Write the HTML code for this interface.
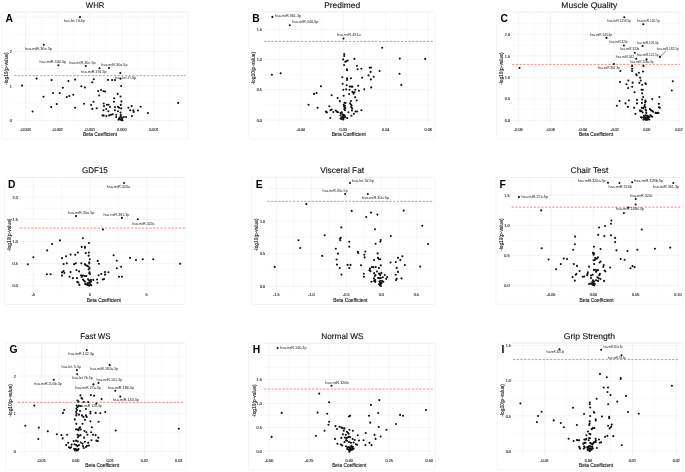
<!DOCTYPE html>
<html><head><meta charset="utf-8"><title>Volcano plots</title><style>
html,body{margin:0;padding:0;background:#fff;}
body{width:685px;height:472px;overflow:hidden;}
svg{display:block;will-change:transform;}
text{font-family:"Liberation Sans",sans-serif;}
.tt{text-rendering:geometricPrecision;}
.tt{font-size:8.3px;fill:#111111;stroke:#111;stroke-width:0.12px;}
.tg{font-size:10.3px;font-weight:bold;fill:#000;}
.ax{font-size:4.85px;fill:#1a1a1a;stroke:#1a1a1a;stroke-width:0.12px;}
.tk{font-size:3.75px;fill:#3a3a3a;stroke:#3a3a3a;stroke-width:0.16px;}
.lb{font-size:3.75px;fill:#1a1a1a;}
.lt{font-size:2.8px;fill:#1a1a1a;}
</style></head>
<body><svg width="685" height="472" viewBox="0 0 685 472">
<rect width="685" height="472" fill="#fff"/>
<g id="pA">
<rect x="1.8" y="12" width="186.2" height="127" rx="1.5" fill="none" stroke="#ececec" stroke-width="0.6"/>
<path d="M41.55 12.3V125M73.65 12.3V125M105.75 12.3V125M137.85 12.3V125M169.95 12.3V125M14 103.2H186M14 68.8H186M14 34.4H186" stroke="#f1f1f1" stroke-width="0.45" fill="none"/>
<path d="M25.5 12.3V125M57.6 12.3V125M89.7 12.3V125M121.8 12.3V125M153.9 12.3V125M14 120.4H186M14 86H186M14 51.6H186M14 17.2H186M14 12.3H186" stroke="#ebebeb" stroke-width="0.55" fill="none"/>
<text x="25.5" y="130.6" class="tk" text-anchor="middle">-0.003</text>
<text x="57.6" y="130.6" class="tk" text-anchor="middle">-0.002</text>
<text x="89.7" y="130.6" class="tk" text-anchor="middle">-0.001</text>
<text x="121.8" y="130.6" class="tk" text-anchor="middle">0.000</text>
<text x="153.9" y="130.6" class="tk" text-anchor="middle">0.001</text>
<text x="11.9" y="122.05" class="tk" text-anchor="end">0</text>
<text x="11.9" y="87.65" class="tk" text-anchor="end">1</text>
<text x="11.9" y="53.25" class="tk" text-anchor="end">2</text>
<text x="100.1" y="135.7" class="ax" text-anchor="middle">Beta Coefficient</text>
<text transform="translate(8.2 68.65) rotate(-90)" class="ax" text-anchor="middle">-log10(p-value)</text>
<line x1="14" y1="75.64" x2="186" y2="75.64" stroke="#f37e76" stroke-width="0.9" stroke-dasharray="2.3 1.4"/>
<path d="M80 17.1h0M43.8 44.8h0M58.4 65.3h0M85.8 66h0M109 68h0M99.5 68.3h0M120.3 73h0M22 85.6h0M36.6 78.6h0M32.6 111.5h0M43.5 96.7h0M51.6 80.1h0M53.1 93h0M51.2 107.1h0M56.7 104.1h0M59.8 93h0M62.9 87.8h0M66.8 97h0M69.3 96h0M68.4 81.1h0M73.3 94.8h0M75.1 79.6h0M75.1 107.8h0M81.3 86.3h0M84.9 87.5h0M84.1 103.8h0M92.3 82.2h0M93.8 79.2h0M91.1 105h0M93.5 101.8h0M92.3 108.9h0M96.7 108.3h0M98.2 91.1h0M99.1 95.5h0M108 79.9h0M112.1 80.1h0M115 80.1h0M120.5 78.7h0M121.2 86h0M101.1 90h0M103.4 91.2h0M105.1 91.5h0M117.7 93.9h0M114.2 98.2h0M120.5 96.5h0M113.9 101.7h0M121.4 101.4h0M103.7 103.5h0M104 106.1h0M106.9 104.7h0M108.6 104.7h0M110 107h0M103.4 110.2h0M106.3 109h0M108.4 111.3h0M102.6 115.4h0M103.7 115.6h0M106.3 116h0M109.2 115.4h0M111 114.8h0M112.7 114.2h0M115 107h0M117.9 106.7h0M119.1 107.8h0M120.8 104.9h0M121.2 108.4h0M115 110.2h0M117.9 111.3h0M120.5 112.5h0M120.8 114.8h0M116.2 114.8h0M116.2 117.1h0M119.7 117.7h0M120.5 119.5h0M122 118.9h0M123.8 117.1h0M126.1 117.1h0M120.5 116.3h0M121.4 120.1h0M128.4 107.8h0M131.7 106.1h0M130.2 110.2h0M133.3 110.2h0M133.7 111.9h0M138 110.5h0M140.6 106.7h0M131.9 116h0M147.9 113.1h0M178.2 102.9h0M118.5 119.8h0M122.5 120.3h0M119 118.5h0M121.8 117.5h0" stroke="#111" stroke-width="2.1" stroke-linecap="round" fill="none"/>
<g>
<text x="63.65" y="22.43" class="lb" style="font-size:3.75px" textLength="21.2" lengthAdjust="spacingAndGlyphs">hsa.let.7d.5p</text>
<text x="24.95" y="49.92" class="lb" style="font-size:3.75px" textLength="27" lengthAdjust="spacingAndGlyphs">hsa.miR.30e.3p</text>
<text x="39.55" y="63.42" class="lb" style="font-size:3.75px" textLength="26.6" lengthAdjust="spacingAndGlyphs">hsa.miR.340.5p</text>
<text x="69.15" y="63.83" class="lb" style="font-size:3.75px" textLength="26.6" lengthAdjust="spacingAndGlyphs">hsa.miR.30c.5p</text>
<text x="101.25" y="66.03" class="lb" style="font-size:3.75px" textLength="26.3" lengthAdjust="spacingAndGlyphs">hsa.miR.30a.5p</text>
<text x="80.75" y="73.22" class="lb" style="font-size:3.75px" textLength="25.9" lengthAdjust="spacingAndGlyphs">hsa.miR.191.5p</text>
<text x="114.85" y="78.53" class="lb" style="font-size:3.75px" textLength="21.3" lengthAdjust="spacingAndGlyphs">hsa.let.7i.5p</text>
</g>
<text x="85.85" y="8" class="tt" textLength="18.5" lengthAdjust="spacingAndGlyphs">WHR</text>
<text x="5.5" y="22" class="tg">A</text>
</g>
<g id="pB">
<rect x="248.8" y="12" width="186.4" height="127" rx="1.5" fill="none" stroke="#ececec" stroke-width="0.6"/>
<path d="M279.45 11.6V125M321.95 11.6V125M364.45 11.6V125M406.95 11.6V125M264 104.9H433M264 74.7H433M264 44.5H433" stroke="#f1f1f1" stroke-width="0.45" fill="none"/>
<path d="M300.7 11.6V125M343.2 11.6V125M385.7 11.6V125M428.2 11.6V125M264 120H433M264 89.8H433M264 59.6H433M264 29.4H433M264 11.6H433" stroke="#ebebeb" stroke-width="0.55" fill="none"/>
<text x="300.7" y="130.6" class="tk" text-anchor="middle">-0.04</text>
<text x="343.2" y="130.6" class="tk" text-anchor="middle">0.00</text>
<text x="385.7" y="130.6" class="tk" text-anchor="middle">0.04</text>
<text x="428.2" y="130.6" class="tk" text-anchor="middle">0.08</text>
<text x="261.9" y="121.65" class="tk" text-anchor="end">0.0</text>
<text x="261.9" y="91.45" class="tk" text-anchor="end">0.5</text>
<text x="261.9" y="61.25" class="tk" text-anchor="end">1.0</text>
<text x="261.9" y="31.05" class="tk" text-anchor="end">1.5</text>
<text x="348.7" y="135.7" class="ax" text-anchor="middle">Beta Coefficient</text>
<text transform="translate(255.4 68.3) rotate(-90)" class="ax" text-anchor="middle">-log10(p-value)</text>
<line x1="264" y1="41.42" x2="433" y2="41.42" stroke="#f37e76" stroke-width="0.9" stroke-dasharray="2.3 1.4"/>
<path d="M272.4 16.9h0M289.8 25.2h0M343.5 38.6h0M382.2 47.8h0M343.2 59.4h0M345.2 61.8h0M347.7 60.5h0M354.4 58.9h0M344.1 65h0M399.8 58.6h0M425.2 58.9h0M357 65.8h0M369.8 67.7h0M361.3 68.7h0M346.9 69.3h0M357.6 69.3h0M271.9 74.7h0M280.7 73.2h0M314.1 93.9h0M316.6 93h0M308.6 104.7h0M317.6 107.8h0M344.2 54h0M344.2 56h0M346.2 61.4h0M347 70.2h0M370.6 71.9h0M379.6 71h0M368.5 75.4h0M373.7 76.7h0M370.9 79.4h0M362.1 77.8h0M342.3 77.3h0M347 78.3h0M347 79.9h0M351 78.3h0M371.2 87.4h0M399.5 73.8h0M401.3 84.9h0M371 67.5h0M320.95 86.2h0M342.69 83.81h0M346.69 85.24h0M349.74 86.48h0M351.46 86.67h0M352.41 86.67h0M358.13 85.72h0M364.33 89.34h0M343.36 89.72h0M346.22 89.34h0M349.55 89.72h0M355.27 89.72h0M358.89 90.68h0M352.41 91.92h0M353.84 92.87h0M354.51 92.2h0M353.56 93.82h0M349.08 94.11h0M331.63 95.25h0M343.64 95.73h0M337.64 98.11h0M355.08 97.35h0M339.83 101.16h0M350.98 100.97h0M356.7 100.5h0M344.59 102.69h0M345.55 103.07h0M343.64 104.79h0M344.02 106.22h0M344.98 105.74h0M344.59 107.17h0M345.26 108.12h0M344.31 109.08h0M344.98 110.31h0M350.03 103.36h0M350.98 104.59h0M351.65 105.55h0M351.27 107.17h0M352.22 108.41h0M351.94 110.51h0M329.34 106.22h0M330.49 110.31h0M331.63 109.55h0M325.91 111.65h0M326.86 112.41h0M333.35 111.94h0M335.73 110.51h0M336.97 111.65h0M337.92 112.22h0M340.5 112.89h0M341.73 112.41h0M348.41 112.22h0M355.46 111.46h0M357.18 111.46h0M361.47 110.31h0M353.84 113.84h0M351.46 115.75h0M330.3 117.94h0M347.17 117.94h0M340.5 115.27h0M342.4 114.32h0M343.83 114.8h0M342.88 116.22h0M344.79 115.75h0M341.45 117.18h0M343.36 117.65h0M344.98 117.37h0M340.5 118.61h0M341.93 119.08h0M343.36 119.56h0" stroke="#111" stroke-width="2.1" stroke-linecap="round" fill="none"/>
<g>
<text x="274.85" y="16.73" class="lb" style="font-size:3.75px" textLength="26.3" lengthAdjust="spacingAndGlyphs">hsa.miR.361.3p</text>
<text x="292.05" y="23.12" class="lb" style="font-size:3.75px" textLength="26.3" lengthAdjust="spacingAndGlyphs">hsa.miR.340.5p</text>
<text x="337.05" y="36.12" class="lb" style="font-size:3.75px" textLength="23.6" lengthAdjust="spacingAndGlyphs">hsa.miR.451a</text>
</g>
<text x="324.25" y="8" class="tt" textLength="35.8" lengthAdjust="spacingAndGlyphs">Predimed</text>
<text x="252.2" y="22.2" class="tg">B</text>
</g>
<g id="pC">
<rect x="496.4" y="12" width="186.6" height="126.9" rx="1.5" fill="none" stroke="#ececec" stroke-width="0.6"/>
<path d="M534.45 12.4V125M566.55 12.4V125M598.65 12.4V125M630.75 12.4V125M662.85 12.4V125M512.1 109.48H680M512.1 88.03H680M512.1 66.58H680M512.1 45.12H680M512.1 23.68H680" stroke="#f1f1f1" stroke-width="0.45" fill="none"/>
<path d="M518.4 12.4V125M550.5 12.4V125M582.6 12.4V125M614.7 12.4V125M646.8 12.4V125M678.9 12.4V125M512.1 120.2H680M512.1 98.75H680M512.1 77.3H680M512.1 55.85H680M512.1 34.4H680M512.1 12.4H680" stroke="#ebebeb" stroke-width="0.55" fill="none"/>
<text x="518.4" y="130.6" class="tk" text-anchor="middle">-0.08</text>
<text x="550.5" y="130.6" class="tk" text-anchor="middle">-0.06</text>
<text x="582.6" y="130.6" class="tk" text-anchor="middle">-0.04</text>
<text x="614.7" y="130.6" class="tk" text-anchor="middle">-0.02</text>
<text x="646.8" y="130.6" class="tk" text-anchor="middle">0.00</text>
<text x="678.9" y="130.6" class="tk" text-anchor="middle">0.02</text>
<text x="510" y="121.85" class="tk" text-anchor="end">0.0</text>
<text x="510" y="100.4" class="tk" text-anchor="end">0.5</text>
<text x="510" y="78.95" class="tk" text-anchor="end">1.0</text>
<text x="510" y="57.5" class="tk" text-anchor="end">1.5</text>
<text x="510" y="36.05" class="tk" text-anchor="end">2.0</text>
<text x="596" y="135.7" class="ax" text-anchor="middle">Beta Coefficient</text>
<text transform="translate(502.6 68.7) rotate(-90)" class="ax" text-anchor="middle">-log10(p-value)</text>
<line x1="512.1" y1="64.39" x2="680" y2="64.39" stroke="#f37e76" stroke-width="0.9" stroke-dasharray="2.3 1.4"/>
<line x1="659.9" y1="56.9" x2="665.9" y2="51" stroke="#222" stroke-width="0.5"/>
<path d="M624.3 17.2h0M643.3 24.3h0M606.5 37.9h0M623.9 45.5h0M642.6 46h0M634.7 52.8h0M636.2 58.7h0M646.6 59.2h0M659.9 56.9h0M613.9 64h0M519.5 68h0M632.1 65.9h0M643.5 65.9h0M620.3 71h0M632.1 68.8h0M632.1 71h0M643 71.5h0M638.9 72.7h0M636.7 75.3h0M640.1 77.8h0M672.8 81.2h0M671.8 90.5h0M636.2 74.4h0M619.96 82.1h0M628.36 80.48h0M626.45 84.29h0M632.65 82.67h0M639.33 82.86h0M640.76 80.48h0M642.19 84.77h0M645.34 83.34h0M646.01 84.01h0M628.17 88.11h0M632.18 86.68h0M641.53 89.73h0M642.86 89.73h0M634.56 92.21h0M642.19 93.36h0M643.15 96.98h0M659.37 96.98h0M652.21 99.08h0M619.58 100.99h0M628.84 100.52h0M636.95 99.85h0M642.19 99.56h0M645.34 100.52h0M645.73 101.47h0M645.06 102.42h0M625.5 103.38h0M636.95 103.38h0M641.91 102.9h0M616.91 105.76h0M627.88 106.91h0M634.08 107.86h0M658.89 103.85h0M644.77 105h0M644.39 106.53h0M645.34 107.19h0M641.91 107.86h0M643.15 108.15h0M658.89 107.19h0M659.85 107.86h0M640 110.34h0M640.29 111.3h0M641.53 111.01h0M645.53 109.58h0M646.01 110.53h0M649.83 109.1h0M651.07 110.34h0M652.4 111.01h0M653.17 111.68h0M655.55 112.92h0M656.98 112.92h0M658.42 112.92h0M642.67 112.44h0M646.3 112.92h0M635.52 113.87h0M640.95 117.21h0M651.26 115.78h0M652.21 116.74h0M644.1 115.78h0M645.34 115.31h0M646.68 115.5h0M647.92 116.07h0M643.63 117.21h0M644.77 117.69h0M646.01 117.4h0M647.44 117.21h0M648.59 117.02h0M644.1 118.65h0M645.34 119.12h0M646.49 118.65h0M647.92 118.36h0M646.01 119.89h0M647.25 119.6h0M649.5 117h0M649.2 119.6h0M643.4 119.8h0M641.8 117.6h0M650.3 115.4h0" stroke="#111" stroke-width="2.1" stroke-linecap="round" fill="none"/>
<g>
<text x="607.15" y="21.98" class="lb" style="font-size:3.25px" textLength="24" lengthAdjust="spacingAndGlyphs">hsa.miR.1256.5p</text>
<text x="637.25" y="22.18" class="lb" style="font-size:3.25px" textLength="22.5" lengthAdjust="spacingAndGlyphs">hsa.miR.100.5p</text>
<text x="590.05" y="35.77" class="lb" style="font-size:3.25px" textLength="22" lengthAdjust="spacingAndGlyphs">hsa.miR.143.3p</text>
<text x="609.35" y="43.38" class="lb" style="font-size:3.25px" textLength="18.8" lengthAdjust="spacingAndGlyphs">hsa.miR.320c</text>
<text x="636.75" y="43.77" class="lb" style="font-size:3.25px" textLength="21.8" lengthAdjust="spacingAndGlyphs">hsa.miR.126.3p</text>
<text x="620.15" y="50.18" class="lb" style="font-size:3.25px" textLength="19.2" lengthAdjust="spacingAndGlyphs">hsa.miR.320b</text>
<text x="616.05" y="57.58" class="lb" style="font-size:3.25px" textLength="18.1" lengthAdjust="spacingAndGlyphs">hsa.miR.342</text>
<text x="636.75" y="56.38" class="lb" style="font-size:3.25px" textLength="21.8" lengthAdjust="spacingAndGlyphs">hsa.miR.122.5p</text>
<text x="656.85" y="50.48" class="lb" style="font-size:3.25px" textLength="21.8" lengthAdjust="spacingAndGlyphs">hsa.miR.182.5p</text>
<text x="597.85" y="68.77" class="lb" style="font-size:3.25px" textLength="22.2" lengthAdjust="spacingAndGlyphs">hsa.miR.361.3p</text>
<text x="630.15" y="63.08" class="lb" style="font-size:3.25px" textLength="23.2" lengthAdjust="spacingAndGlyphs">hsa.miR.128a.3p</text>
</g>
<text x="561.35" y="8" class="tt" textLength="55.9" lengthAdjust="spacingAndGlyphs">Muscle Quality</text>
<text x="500.4" y="22" class="tg">C</text>
</g>
<g id="pD">
<rect x="4.4" y="177.5" width="180.9" height="127" rx="1.5" fill="none" stroke="#ececec" stroke-width="0.6"/>
<path d="M61.7 177.5V290.4M118.3 177.5V290.4M174.9 177.5V290.4M19.9 274.62H185M19.9 252.47H185M19.9 230.32H185M19.9 208.18H185M19.9 186.02H185" stroke="#f1f1f1" stroke-width="0.45" fill="none"/>
<path d="M33.4 177.5V290.4M90 177.5V290.4M146.6 177.5V290.4M19.9 285.7H185M19.9 263.55H185M19.9 241.4H185M19.9 219.25H185M19.9 197.1H185M19.9 177.5H185" stroke="#ebebeb" stroke-width="0.55" fill="none"/>
<text x="33.4" y="296" class="tk" text-anchor="middle">-5</text>
<text x="90" y="296" class="tk" text-anchor="middle">0</text>
<text x="146.6" y="296" class="tk" text-anchor="middle">5</text>
<text x="17.8" y="287.35" class="tk" text-anchor="end">0.0</text>
<text x="17.8" y="265.2" class="tk" text-anchor="end">0.5</text>
<text x="17.8" y="243.05" class="tk" text-anchor="end">1.0</text>
<text x="17.8" y="220.9" class="tk" text-anchor="end">1.5</text>
<text x="17.8" y="198.75" class="tk" text-anchor="end">2.0</text>
<text x="103.9" y="301.6" class="ax" text-anchor="middle">Beta Coefficient</text>
<text transform="translate(10.6 234.85) rotate(-90)" class="ax" text-anchor="middle">-log10(p-value)</text>
<line x1="19.9" y1="228.06" x2="185" y2="228.06" stroke="#f37e76" stroke-width="0.9" stroke-dasharray="2.3 1.4"/>
<path d="M124.1 183h0M76 216.1h0M121.9 217.9h0M137.8 219.3h0M103 229.5h0M27.8 264.3h0M33.4 257.3h0M47.2 250.4h0M52.1 244.1h0M59.9 240.4h0M46.9 274.3h0M50.6 274.3h0M62 258.1h0M66 256.3h0M63.6 264h0M66.8 263.2h0M62 272.4h0M63.6 271.1h0M64.4 273h0M62 275.6h0M69.5 276.8h0M113.6 255.2h0M116.8 260.8h0M130 257.9h0M136 260h0M142.8 259.2h0M153.2 259.2h0M180.2 263.8h0M116.8 268.3h0M121.1 266.7h0M119 276.7h0M121.9 276.7h0M82.83 238.27h0M88.89 242.93h0M81.66 246.9h0M84.93 246.9h0M84.93 247.83h0M77.93 252.49h0M75.25 254.83h0M70.58 254.59h0M85.74 253.08h0M88.89 252.49h0M88.66 255.64h0M89.83 259.26h0M97.76 260.89h0M98.92 263.69h0M74.08 264.15h0M75.83 263.22h0M81.31 263.34h0M84.93 264.15h0M85.74 265.09h0M89.24 262.41h0M89.24 263.57h0M87.26 265.9h0M88.43 266.49h0M89.59 268h0M88.66 269.4h0M70.58 272.08h0M76.41 269.99h0M79.1 271.38h0M81.08 275.23h0M83.06 275.58h0M84.93 276.05h0M86.33 276.05h0M89.24 273.25h0M90.06 274.07h0M89.59 272.32h0M72.92 278.15h0M77 278.15h0M81.66 276.98h0M83.06 279.55h0M88.08 279.31h0M89.24 280.48h0M90.99 279.9h0M93.32 279.9h0M97.06 279.55h0M98.57 275.23h0M101.25 274.07h0M104.99 272.08h0M104.99 274.65h0M108.48 272.32h0M102.65 279.55h0M104.05 279.08h0M77.23 281.88h0M78.4 282.58h0M79.33 284.91h0M83.76 280.48h0M84.93 281.65h0M85.16 283.98h0M86.33 284.56h0M87.49 283.4h0M88.66 282.81h0M89.83 282.23h0M90.99 281.65h0M90.06 283.98h0M91.22 285.15h0M89.24 285.73h0M88.08 285.15h0M97.41 282.81h0" stroke="#111" stroke-width="2.1" stroke-linecap="round" fill="none"/>
<g>
<text x="106.85" y="188.12" class="lb" style="font-size:3.75px" textLength="23.3" lengthAdjust="spacingAndGlyphs">hsa.miR.320a</text>
<text x="68.05" y="213.82" class="lb" style="font-size:3.75px" textLength="26.3" lengthAdjust="spacingAndGlyphs">hsa.miR.30a.5p</text>
<text x="103.45" y="215.72" class="lb" style="font-size:3.75px" textLength="26" lengthAdjust="spacingAndGlyphs">hsa.miR.381.3p</text>
<text x="132.15" y="224.62" class="lb" style="font-size:3.75px" textLength="22.5" lengthAdjust="spacingAndGlyphs">hsa.miR.320c</text>
</g>
<text x="81.95" y="173.3" class="tt" textLength="25.9" lengthAdjust="spacingAndGlyphs">GDF15</text>
<text x="8.1" y="187.8" class="tg">D</text>
</g>
<g id="pE">
<rect x="251.5" y="177.3" width="183.5" height="127.2" rx="1.5" fill="none" stroke="#ececec" stroke-width="0.6"/>
<path d="M293.88 177.3V290.4M328.85 177.3V290.4M363.81 177.3V290.4M398.79 177.3V290.4M267.2 269.9H432.7M267.2 237.3H432.7M267.2 204.7H432.7" stroke="#f1f1f1" stroke-width="0.45" fill="none"/>
<path d="M276.39 177.3V290.4M311.36 177.3V290.4M346.33 177.3V290.4M381.3 177.3V290.4M416.27 177.3V290.4M267.2 286.2H432.7M267.2 253.6H432.7M267.2 221H432.7M267.2 188.4H432.7M267.2 177.3H432.7" stroke="#ebebeb" stroke-width="0.55" fill="none"/>
<text x="276.39" y="296" class="tk" text-anchor="middle">-1.5</text>
<text x="311.36" y="296" class="tk" text-anchor="middle">-1.0</text>
<text x="346.33" y="296" class="tk" text-anchor="middle">-0.5</text>
<text x="381.3" y="296" class="tk" text-anchor="middle">0.0</text>
<text x="416.27" y="296" class="tk" text-anchor="middle">0.5</text>
<text x="265.1" y="287.85" class="tk" text-anchor="end">0.0</text>
<text x="265.1" y="255.25" class="tk" text-anchor="end">0.5</text>
<text x="265.1" y="222.65" class="tk" text-anchor="end">1.0</text>
<text x="350.4" y="301.9" class="ax" text-anchor="middle">Beta Coefficient</text>
<text transform="translate(258.3 234.75) rotate(-90)" class="ax" text-anchor="middle">-log10(p-value)</text>
<line x1="267.2" y1="201.37" x2="432.7" y2="201.37" stroke="#f37e76" stroke-width="0.9" stroke-dasharray="2.3 1.4"/>
<path d="M350 183h0M345.1 194h0M367.8 194h0M306.3 204.1h0M351.7 210.9h0M366.2 217h0M371 212.6h0M377.4 214.6h0M403.7 210.6h0M422.3 225.8h0M375 229.3h0M341.3 227.4h0M274.7 266.9h0M298.5 240.3h0M300.2 248h0M324.7 235.3h0M322.2 255.9h0M340 238.6h0M340.3 240.3h0M340.8 237.8h0M349.3 241.7h0M349.3 246.8h0M335.8 248.8h0M338 253.6h0M336.6 259.5h0M337 264.6h0M339.7 268h0M341.4 274.6h0M347.6 264.9h0M349.3 268h0M390.8 236.1h0M428.1 244.1h0M380.7 240h0M380.3 241.7h0M375.6 243.7h0M357.8 251.9h0M358.3 253h0M420.2 266.6h0M350.5 264.9h0M365.25 251.49h0M364.29 254.73h0M364.58 257.4h0M377.65 253.4h0M377.94 257.88h0M379.08 259.31h0M380.23 259.31h0M374.12 260.08h0M390.53 262.46h0M397.98 257.88h0M400.27 260.08h0M402.46 256.26h0M395.78 261.98h0M404.85 265.04h0M396.74 267.9h0M397.98 271.91h0M395.78 274.77h0M396.74 278.87h0M396.07 280.11h0M401.51 278.4h0M360.95 265.23h0M371.93 266.95h0M373.36 267.14h0M375.74 266.95h0M380.8 265.23h0M378.89 268.09h0M370.02 268.66h0M369.35 270.29h0M370.5 271.24h0M376.98 271.53h0M363.82 273.82h0M364.01 276.68h0M374.12 273.15h0M375.46 275.06h0M374.79 276.01h0M379.08 273.63h0M380.52 274.1h0M381.47 272.86h0M380.04 275.06h0M384.81 275.06h0M387.19 276.97h0M386.24 278.87h0M382.9 277.25h0M378.13 277.92h0M379.56 278.21h0M380.8 277.92h0M373.84 278.4h0M375.27 280.11h0M374.12 281.07h0M371.45 281.74h0M375.27 282.02h0M379.56 281.26h0M380.99 280.78h0M382.42 281.26h0M383.38 281.74h0M380.04 282.69h0M381.47 283.17h0M379.08 284.12h0M380.52 284.6h0M380.04 285.55h0M380.99 286.03h0" stroke="#111" stroke-width="2.1" stroke-linecap="round" fill="none"/>
<g>
<text x="351.85" y="182.32" class="lb" style="font-size:3.75px" textLength="22" lengthAdjust="spacingAndGlyphs">hsa.let.7d.5p</text>
<text x="322.55" y="191.62" class="lb" style="font-size:3.75px" textLength="25.1" lengthAdjust="spacingAndGlyphs">hsa.miR.30c.5p</text>
<text x="362.05" y="199.32" class="lb" style="font-size:3.75px" textLength="27.1" lengthAdjust="spacingAndGlyphs">hsa.miR.30a.5p</text>
</g>
<text x="320.35" y="173.3" class="tt" textLength="43.8" lengthAdjust="spacingAndGlyphs">Visceral Fat</text>
<text x="255.8" y="187.7" class="tg">E</text>
</g>
<g id="pF">
<rect x="495.8" y="177.5" width="187.2" height="126.7" rx="1.5" fill="none" stroke="#ececec" stroke-width="0.6"/>
<path d="M529.95 177.5V290.1M572.25 177.5V290.1M614.55 177.5V290.1M656.85 177.5V290.1M511.6 270.45H680.4M511.6 240.35H680.4M511.6 210.25H680.4M511.6 180.15H680.4" stroke="#f1f1f1" stroke-width="0.45" fill="none"/>
<path d="M551.1 177.5V290.1M593.4 177.5V290.1M635.7 177.5V290.1M678 177.5V290.1M511.6 285.5H680.4M511.6 255.4H680.4M511.6 225.3H680.4M511.6 195.2H680.4M511.6 177.5H680.4" stroke="#ebebeb" stroke-width="0.55" fill="none"/>
<text x="551.1" y="296" class="tk" text-anchor="middle">-0.05</text>
<text x="593.4" y="296" class="tk" text-anchor="middle">0.00</text>
<text x="635.7" y="296" class="tk" text-anchor="middle">0.05</text>
<text x="678" y="296" class="tk" text-anchor="middle">0.10</text>
<text x="509.5" y="287.15" class="tk" text-anchor="end">0.0</text>
<text x="509.5" y="257.05" class="tk" text-anchor="end">0.5</text>
<text x="509.5" y="226.95" class="tk" text-anchor="end">1.0</text>
<text x="509.5" y="196.85" class="tk" text-anchor="end">1.5</text>
<text x="596.6" y="301.9" class="ax" text-anchor="middle">Beta Coefficient</text>
<text transform="translate(502.7 234.7) rotate(-90)" class="ax" text-anchor="middle">-log10(p-value)</text>
<line x1="511.6" y1="207.18" x2="680.4" y2="207.18" stroke="#f37e76" stroke-width="0.9" stroke-dasharray="2.3 1.4"/>
<path d="M518.9 197.1h0M608 182.7h0M619.4 183h0M632.2 182.3h0M673.3 183h0M635.7 199h0M635.7 204.5h0M623.9 213.1h0M541.2 210.4h0M628.5 207.5h0M611.4 220.5h0M611 223.8h0M605 226h0M599.1 227.5h0M641.8 229.5h0M541.7 248.3h0M548.5 259.5h0M556.1 269.2h0M560.8 264.1h0M563.7 258.6h0M567.1 259h0M627.5 251h0M637.3 249.7h0M654.9 248.8h0M670.2 247.6h0M620.7 259h0M624.6 259.8h0M630.5 268.3h0M632.5 266.1h0M634.6 267.1h0M575.09 236.62h0M574.83 244.25h0M573.18 249.72h0M598.24 234.83h0M604.35 236.11h0M610.97 235.34h0M615.17 237.89h0M615.17 242.09h0M593.92 246.79h0M600.53 249.08h0M616.44 250.36h0M592.9 252.9h0M594.17 253.54h0M593.54 254.81h0M595.19 257.99h0M596.72 258.63h0M597.99 257.35h0M593.54 260.28h0M594.81 259.9h0M600.53 261.55h0M599.52 262.44h0M573.82 264.1h0M577 265.88h0M594.17 264.1h0M589.08 266.64h0M603.72 264.99h0M603.33 266.9h0M610.08 267.53h0M579.54 270.97h0M593.92 270.08h0M595.45 269.69h0M596.97 270.46h0M597.99 270.08h0M596.08 271.73h0M604.61 270.46h0M605.37 271.35h0M587.81 272.24h0M587.56 273.89h0M587.18 275.17h0M576.36 273.89h0M575.73 274.78h0M582.72 276.82h0M584.25 276.44h0M572.54 277.07h0M599.9 273.89h0M599.26 275.17h0M590.99 275.55h0M592.65 274.78h0M590.99 278.09h0M597.35 277.33h0M598.63 278.35h0M600.53 278.98h0M574.83 280.64h0M604.1 280.89h0M596.08 280.25h0M597.99 280.89h0M592.9 280.25h0M594.17 281.53h0M592.26 282.16h0M593.54 283.18h0M591.63 284.07h0M594.81 284.07h0M592.9 284.96h0M590.36 283.44h0M594.17 285.34h0M589.08 284.07h0" stroke="#111" stroke-width="2.1" stroke-linecap="round" fill="none"/>
<g>
<text x="521.45" y="198.22" class="lb" style="font-size:3.75px" textLength="26.6" lengthAdjust="spacingAndGlyphs">hsa.miR.27a.5p</text>
<text x="577.65" y="181.62" class="lb" style="font-size:3.75px" textLength="28" lengthAdjust="spacingAndGlyphs">hsa.miR.320a.3p</text>
<text x="608.55" y="188.12" class="lb" style="font-size:3.75px" textLength="23.3" lengthAdjust="spacingAndGlyphs">hsa.miR.320b</text>
<text x="634.25" y="181.62" class="lb" style="font-size:3.75px" textLength="28.8" lengthAdjust="spacingAndGlyphs">hsa.miR.128b.5p</text>
<text x="652.85" y="188.12" class="lb" style="font-size:3.75px" textLength="26.3" lengthAdjust="spacingAndGlyphs">hsa.miR.361.3p</text>
<text x="630.15" y="196.72" class="lb" style="font-size:3.75px" textLength="22.5" lengthAdjust="spacingAndGlyphs">hsa.miR.320c</text>
<text x="616.05" y="209.82" class="lb" style="font-size:3.75px" textLength="27.7" lengthAdjust="spacingAndGlyphs">hsa.miR.148b.3p</text>
</g>
<text x="570.55" y="173.3" class="tt" textLength="37.8" lengthAdjust="spacingAndGlyphs">Chair Test</text>
<text x="499.6" y="187.9" class="tg">F</text>
</g>
<g id="pG">
<rect x="5.5" y="343" width="180.5" height="127" rx="1.5" fill="none" stroke="#ececec" stroke-width="0.6"/>
<path d="M24.31 343.3V455.8M58.64 343.3V455.8M92.96 343.3V455.8M127.29 343.3V455.8M161.61 343.3V455.8M18 432.7H184M18 394.9H184M18 357.1H184" stroke="#f1f1f1" stroke-width="0.45" fill="none"/>
<path d="M41.47 343.3V455.8M75.8 343.3V455.8M110.12 343.3V455.8M144.45 343.3V455.8M178.77 343.3V455.8M18 451.6H184M18 413.8H184M18 376H184M18 343.3H184" stroke="#ebebeb" stroke-width="0.55" fill="none"/>
<text x="41.47" y="461.6" class="tk" text-anchor="middle">-0.01</text>
<text x="75.8" y="461.6" class="tk" text-anchor="middle">0.00</text>
<text x="110.12" y="461.6" class="tk" text-anchor="middle">0.01</text>
<text x="144.45" y="461.6" class="tk" text-anchor="middle">0.02</text>
<text x="178.77" y="461.6" class="tk" text-anchor="middle">0.03</text>
<text x="15.9" y="453.25" class="tk" text-anchor="end">0</text>
<text x="15.9" y="415.45" class="tk" text-anchor="end">1</text>
<text x="15.9" y="377.65" class="tk" text-anchor="end">2</text>
<text x="102.3" y="466.9" class="ax" text-anchor="middle">Beta Coefficient</text>
<text transform="translate(11.6 400.45) rotate(-90)" class="ax" text-anchor="middle">-log10(p-value)</text>
<line x1="18" y1="402.42" x2="184" y2="402.42" stroke="#f37e76" stroke-width="0.9" stroke-dasharray="2.3 1.4"/>
<path d="M86.8 350h0M76.9 370.1h0M77.2 374.2h0M53.7 379.8h0M93.4 384.4h0M98.5 383h0M109.7 364.9h0M115.3 390.8h0M120.3 396.6h0M34.3 405.6h0M25.3 425.7h0M38.8 427.6h0M47.8 431.2h0M56.8 434.2h0M38.3 439h0M115.7 430.5h0M178.8 428.7h0M80.47 395.39h0M81.51 398.06h0M82.26 398.65h0M90.86 395.09h0M94.12 395.68h0M101.54 399.09h0M77.51 400.58h0M78.55 401.62h0M83.74 402.06h0M88.19 402.06h0M96.35 403.55h0M76.62 405.47h0M77.51 406.96h0M76.32 408.44h0M77.06 409.93h0M76.02 411.71h0M76.62 413.49h0M78.99 405.77h0M80.77 406.07h0M64.15 409.93h0M62.97 412.89h0M85.96 409.04h0M80.03 410.96h0M90.42 411.71h0M90.42 413.49h0M95.61 412.89h0M100.36 413.19h0M105.25 412h0M78.99 414.67h0M81.96 415.42h0M83.44 416.9h0M85.96 415.42h0M86.71 416.9h0M76.32 415.42h0M74.84 419.42h0M84.93 419.87h0M90.42 421.35h0M98.58 421.8h0M76.32 423.87h0M82.55 423.87h0M91.9 427.28h0M76.02 429.21h0M77.51 429.51h0M79.29 428.32h0M78.55 430.25h0M80.77 429.51h0M80.03 427.28h0M91.16 432.18h0M84.48 430.99h0M86.41 432.18h0M61.48 435.15h0M67.12 434.7h0M62.67 438.41h0M77.51 434.7h0M78.99 435.74h0M80.47 435.15h0M77.8 437.23h0M84.04 437.67h0M87.45 434.7h0M92.94 434.7h0M95.61 435.15h0M98.28 437.67h0M96.35 440.64h0M97.83 441.08h0M91.45 440.19h0M73.65 441.08h0M76.02 440.64h0M77.8 441.38h0M84.93 441.68h0M88.19 442.86h0M68.16 442.86h0M66.23 445.09h0M71.57 444.64h0M74.54 444.35h0M80.77 442.57h0M82.55 443.61h0M76.32 445.09h0M77.51 446.13h0M78.99 445.09h0M83 446.13h0M83.74 448.06h0M85.96 447.02h0M87 445.83h0M88.93 445.53h0M68.9 447.31h0M70.09 448.06h0M71.13 447.31h0M74.09 448.8h0M75.58 449.09h0M77.06 449.54h0M78.55 449.09h0M74.84 450.28h0M76.32 450.58h0M77.8 450.28h0" stroke="#111" stroke-width="2.1" stroke-linecap="round" fill="none"/>
<g>
<text x="68.35" y="354.93" class="lb" style="font-size:3.75px" textLength="25.6" lengthAdjust="spacingAndGlyphs">hsa.miR.142.3p</text>
<text x="61.45" y="367.82" class="lb" style="font-size:3.75px" textLength="19.6" lengthAdjust="spacingAndGlyphs">hsa.let.7i.5p</text>
<text x="72.15" y="378.73" class="lb" style="font-size:3.75px" textLength="20.7" lengthAdjust="spacingAndGlyphs">hsa.let.7b.5p</text>
<text x="34.25" y="384.93" class="lb" style="font-size:3.75px" textLength="27.5" lengthAdjust="spacingAndGlyphs">hsa.miR.200b.3p</text>
<text x="90.35" y="369.73" class="lb" style="font-size:3.75px" textLength="27.9" lengthAdjust="spacingAndGlyphs">hsa.miR.181a.5p</text>
<text x="96.45" y="380.82" class="lb" style="font-size:3.75px" textLength="25.7" lengthAdjust="spacingAndGlyphs">hsa.miR.101.3p</text>
<text x="75.25" y="389.43" class="lb" style="font-size:3.75px" textLength="25.6" lengthAdjust="spacingAndGlyphs">hsa.miR.27a.3p</text>
<text x="107.85" y="388.62" class="lb" style="font-size:3.75px" textLength="26.2" lengthAdjust="spacingAndGlyphs">hsa.miR.186.5p</text>
<text x="112.75" y="401.12" class="lb" style="font-size:3.75px" textLength="26.2" lengthAdjust="spacingAndGlyphs">hsa.miR.140.3p</text>
<text x="77.75" y="406.93" class="lb" style="font-size:3.75px" textLength="24" lengthAdjust="spacingAndGlyphs">hsa.miR.128.3p</text>
</g>
<text x="80.25" y="338.7" class="tt" textLength="30.3" lengthAdjust="spacingAndGlyphs">Fast WS</text>
<text x="9.6" y="352.9" class="tg">G</text>
</g>
<g id="pH">
<rect x="248.5" y="343" width="187" height="127" rx="1.5" fill="none" stroke="#ececec" stroke-width="0.6"/>
<path d="M289.2 343.4V456.3M329.2 343.4V456.3M369.2 343.4V456.3M409.2 343.4V456.3M263.9 439.25H433.5M263.9 415.35H433.5M263.9 391.45H433.5M263.9 367.55H433.5M263.9 343.65H433.5" stroke="#f1f1f1" stroke-width="0.45" fill="none"/>
<path d="M269.2 343.4V456.3M309.2 343.4V456.3M349.2 343.4V456.3M389.2 343.4V456.3M429.2 343.4V456.3M263.9 451.2H433.5M263.9 427.3H433.5M263.9 403.4H433.5M263.9 379.5H433.5M263.9 355.6H433.5M263.9 343.4H433.5" stroke="#ebebeb" stroke-width="0.55" fill="none"/>
<text x="269.2" y="461.6" class="tk" text-anchor="middle">-0.50</text>
<text x="309.2" y="461.6" class="tk" text-anchor="middle">-0.25</text>
<text x="349.2" y="461.6" class="tk" text-anchor="middle">0.00</text>
<text x="389.2" y="461.6" class="tk" text-anchor="middle">0.25</text>
<text x="429.2" y="461.6" class="tk" text-anchor="middle">0.50</text>
<text x="261.8" y="452.85" class="tk" text-anchor="end">0.0</text>
<text x="261.8" y="428.95" class="tk" text-anchor="end">0.5</text>
<text x="261.8" y="405.05" class="tk" text-anchor="end">1.0</text>
<text x="261.8" y="381.15" class="tk" text-anchor="end">1.5</text>
<text x="349.2" y="466.9" class="ax" text-anchor="middle">Beta Coefficient</text>
<text transform="translate(255.6 400.75) rotate(-90)" class="ax" text-anchor="middle">-log10(p-value)</text>
<line x1="263.9" y1="389.01" x2="433.5" y2="389.01" stroke="#f37e76" stroke-width="0.9" stroke-dasharray="2.3 1.4"/>
<path d="M277.6 348h0M331.5 385.8h0M319.2 393.6h0M271.6 436.9h0M281.7 412.9h0M329.1 402.2h0M317.6 412.6h0M327.2 413.8h0M329.1 421.8h0M328.5 424.7h0M324.5 430.8h0M315.9 435.7h0M379.3 400.1h0M370.9 404.9h0M426 410.1h0M378.2 413h0M369 415.7h0M400.1 414.9h0M403 415.7h0M348.9 416.5h0M350.1 415.7h0M396.1 424h0M386.5 429.8h0M380.6 436.5h0M370.24 422.67h0M378.78 427.01h0M335.49 426.1h0M337.01 428.99h0M339.53 426.71h0M341.43 427.62h0M342.58 428h0M344.48 428.38h0M343.72 430.67h0M349.44 429.76h0M352.87 430.82h0M346.92 431.81h0M348.14 432.96h0M348.67 433.72h0M342.96 434.33h0M345.85 434.86h0M357.82 435.24h0M365.67 432.96h0M374.59 434.86h0M375.58 438.9h0M334.95 438.9h0M341.28 437.91h0M344.86 437.53h0M346.39 438.14h0M347.91 437.38h0M349.05 436.77h0M349.97 437.15h0M352.71 439.05h0M354.77 439.97h0M358.96 440.43h0M363.54 440.2h0M346.01 440.2h0M347.15 440.73h0M344.48 442.1h0M349.05 442.1h0M350.96 442.87h0M353.63 442.48h0M355.91 444.24h0M357.06 444.77h0M369.48 442.87h0M371.54 445.15h0M365.44 445h0M337.47 443.78h0M340.82 444.54h0M342.2 445.53h0M346.01 446.3h0M351.34 445.91h0M352.87 446.68h0M347.53 447.44h0M348.67 447.06h0M349.82 447.44h0M350.96 447.82h0M352.1 448.2h0M347.15 448.96h0M348.29 449.34h0M349.44 448.96h0M350.58 449.34h0M351.72 449.73h0M349.05 450.49h0M350.2 450.49h0M349.44 451.63h0M352.87 449.34h0M353.63 448.58h0" stroke="#111" stroke-width="2.1" stroke-linecap="round" fill="none"/>
<g>
<text x="280.05" y="349.12" class="lb" style="font-size:3.75px" textLength="26.5" lengthAdjust="spacingAndGlyphs">hsa.miR.140.3p</text>
<text x="325.25" y="383.52" class="lb" style="font-size:3.75px" textLength="23.3" lengthAdjust="spacingAndGlyphs">hsa.miR.320b</text>
</g>
<text x="321.35" y="338.7" class="tt" textLength="42.1" lengthAdjust="spacingAndGlyphs">Normal WS</text>
<text x="252.7" y="353" class="tg">H</text>
</g>
<g id="pI">
<rect x="497.4" y="343" width="185.6" height="127.1" rx="1.5" fill="none" stroke="#ececec" stroke-width="0.6"/>
<path d="M522.65 343V456M566.55 343V456M610.45 343V456M654.35 343V456M513 433.43H679.2M513 398.27H679.2M513 363.12H679.2" stroke="#f1f1f1" stroke-width="0.45" fill="none"/>
<path d="M544.6 343V456M588.5 343V456M632.4 343V456M676.3 343V456M513 451H679.2M513 415.85H679.2M513 380.7H679.2M513 345.55H679.2M513 343H679.2" stroke="#ebebeb" stroke-width="0.55" fill="none"/>
<text x="544.6" y="461.6" class="tk" text-anchor="middle">-0.01</text>
<text x="588.5" y="461.6" class="tk" text-anchor="middle">0.00</text>
<text x="632.4" y="461.6" class="tk" text-anchor="middle">0.01</text>
<text x="676.3" y="461.6" class="tk" text-anchor="middle">0.02</text>
<text x="510.9" y="452.65" class="tk" text-anchor="end">0.0</text>
<text x="510.9" y="417.5" class="tk" text-anchor="end">0.5</text>
<text x="510.9" y="382.35" class="tk" text-anchor="end">1.0</text>
<text x="510.9" y="347.2" class="tk" text-anchor="end">1.5</text>
<text x="596.1" y="466.9" class="ax" text-anchor="middle">Beta Coefficient</text>
<text transform="translate(504 400.4) rotate(-90)" class="ax" text-anchor="middle">-log10(p-value)</text>
<line x1="513" y1="359.54" x2="679.2" y2="359.54" stroke="#f37e76" stroke-width="0.9" stroke-dasharray="2.3 1.4"/>
<path d="M559.5 349.3h0M601.2 349.7h0M621.5 355.3h0M600 373.9h0M606.8 377.3h0M620.7 378h0M620.7 379h0M671.9 385.8h0M603.7 387.5h0M608 387.5h0M607.5 392h0M610.5 395.1h0M626.1 395.9h0M596.6 398.8h0M520.4 403.5h0M541.6 411.7h0M538.1 416h0M536.9 422.1h0M553.7 420.4h0M560.8 423h0M563.8 427.3h0M573 407.7h0M584.1 414h0M568.6 438.7h0M617.3 401.6h0M589.8 402.5h0M589.8 404.3h0M608.2 404.3h0M590.2 407.5h0M593.8 412h0M594.3 412.8h0M628 412h0M638.8 413.8h0M590.2 416h0M602 416.5h0M609.2 416.9h0M609.2 418.2h0M595.7 419.2h0M621.8 445.2h0M589.68 421.37h0M589.68 423.43h0M589.22 424.96h0M595.78 420.38h0M576.86 424.96h0M608.14 425.72h0M609.66 428.39h0M611.19 426.86h0M611.8 424.58h0M591.74 429.15h0M592.88 428.01h0M594.41 428.01h0M587.93 431.44h0M589.45 433.73h0M590.44 434.34h0M586.4 435.26h0M605.09 436.78h0M607.38 435.87h0M613.33 436.17h0M573.66 440.98h0M576.86 439.98h0M578.01 440.21h0M579.15 440.21h0M584.34 439.45h0M585.64 439.68h0M586.4 438.69h0M589.07 437.93h0M589.98 438.31h0M588.69 440.21h0M595.55 438.69h0M595.93 440.44h0M595.78 442.12h0M598.99 439.45h0M599.75 442.73h0M601.12 442.27h0M583.35 443.65h0M584.49 442.88h0M585.64 442.73h0M590.21 442.88h0M591.36 443.65h0M592.5 444.41h0M593.49 442.88h0M594.26 442.12h0M579.15 446.7h0M579.92 448.6h0M579.53 447.61h0M584.11 446.32h0M583.73 448.6h0M584.87 447.46h0M596.85 448.07h0M587.16 447.08h0M588.31 446.7h0M589.45 445.93h0M590.59 446.32h0M592.12 446.7h0M587.54 448.99h0M588.69 448.6h0M589.83 448.22h0M590.98 448.6h0M592.12 448.99h0M587.93 450.13h0M589.07 450.51h0M590.21 450.13h0M591.36 449.75h0M589.83 451.27h0M592.88 448.22h0" stroke="#111" stroke-width="2.1" stroke-linecap="round" fill="none"/>
<g>
<text x="546.25" y="353.28" class="lb" style="font-size:2.6px" textLength="18" lengthAdjust="spacingAndGlyphs">hsa.miR.328.3p</text>
<text x="603.55" y="347.88" class="lb" style="font-size:2.6px" textLength="19" lengthAdjust="spacingAndGlyphs">hsa.miR.320a.3p</text>
<text x="607.85" y="359.38" class="lb" style="font-size:2.6px" textLength="18.1" lengthAdjust="spacingAndGlyphs">hsa.miR.93.5p</text>
</g>
<text x="563.75" y="338.7" class="tt" textLength="51.3" lengthAdjust="spacingAndGlyphs">Grip Strength</text>
<text x="501.6" y="352.8" class="tg">I</text>
</g>
</svg></body></html>
